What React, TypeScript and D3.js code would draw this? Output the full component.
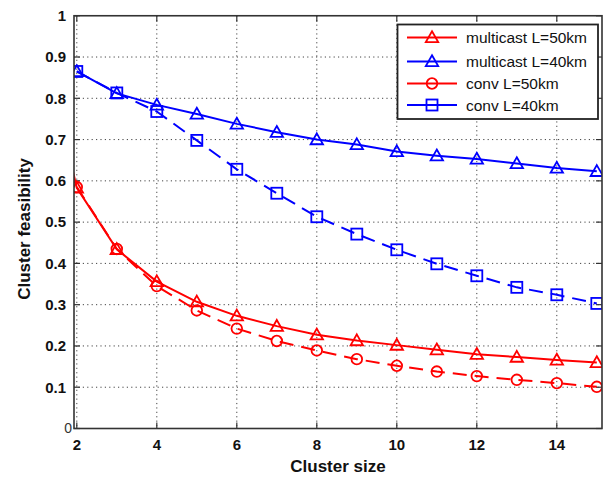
import React from "react";
import * as d3 from "d3";

const xs = [2, 3, 4, 5, 6, 7, 8, 9, 10, 11, 12, 13, 14, 15];
const multicast50 = [0.583, 0.434, 0.356, 0.307, 0.273, 0.248, 0.227, 0.213, 0.202, 0.191, 0.18, 0.173, 0.166, 0.16];
const multicast40 = [0.865, 0.812, 0.784, 0.762, 0.738, 0.718, 0.7, 0.688, 0.671, 0.661, 0.653, 0.642, 0.631, 0.623];
const conv50 = [0.585, 0.435, 0.345, 0.286, 0.242, 0.212, 0.189, 0.168, 0.152, 0.138, 0.127, 0.118, 0.11, 0.101];
const conv40 = [0.865, 0.813, 0.768, 0.698, 0.628, 0.57, 0.513, 0.471, 0.433, 0.399, 0.37, 0.342, 0.324, 0.303];
// multicast L=50km also has a point at cluster size 1 that is clipped by the axes
const multicast50Lead = { x: 1, y: 1.0 };

const xTicks = [2, 4, 6, 8, 10, 12, 14];
const yTicks = [0, 0.1, 0.2, 0.3, 0.4, 0.5, 0.6, 0.7, 0.8, 0.9, 1];
const yTickLabels = ["0", "0.1", "0.2", "0.3", "0.4", "0.5", "0.6", "0.7", "0.8", "0.9", "1"];

const legendLabels = ["multicast L=50km", "multicast L=40km", "conv L=50km", "conv L=40km"];

const RED = "#ff0000";
const BLUE = "#0000ff";

type Series = { values: number[]; color: string; marker: "tri" | "circle" | "square"; dashed: boolean; lead?: { x: number; y: number } };

const series: Series[] = [
  { values: multicast50, color: RED, marker: "tri", dashed: false, lead: multicast50Lead },
  { values: multicast40, color: BLUE, marker: "tri", dashed: false },
  { values: conv50, color: RED, marker: "circle", dashed: true },
  { values: conv40, color: BLUE, marker: "square", dashed: true },
];

const L = 74, R = 602, T = 15.75, B = 428.5;
const FONT = "'Liberation Sans', Arial, Helvetica, sans-serif";

function Marker({ kind, x, y, color }: { kind: string; x: number; y: number; color: string }) {
  if (kind === "tri") {
    const s = 6.2;
    const pts = `${x},${y - s} ${x + s},${y + s * 0.75} ${x - s},${y + s * 0.75}`;
    return <polygon points={pts} fill="none" stroke={color} strokeWidth={1.8} />;
  }
  if (kind === "circle") {
    return <circle cx={x} cy={y} r={5.3} fill="none" stroke={color} strokeWidth={1.8} />;
  }
  return <rect x={x - 5.5} y={y - 5.5} width={11} height={11} fill="none" stroke={color} strokeWidth={1.8} />;
}

export default function App() {
  const x = d3.scaleLinear().domain([1.93, 15.13]).range([L, R]);
  const y = d3.scaleLinear().domain([0, 1]).range([B, T]);
  const line = d3.line<[number, number]>().x((d) => x(d[0])).y((d) => y(d[1]));

  const gridY = yTicks.filter((t) => t > 0 && t < 1);

  return (
    <svg width={607} height={482} style={{ position: "absolute", left: 0, top: 0, background: "#fff" }} fontFamily={FONT}>
      <defs>
        <clipPath id="plotclip">
          <rect x={L} y={T} width={R - L} height={B - T} />
        </clipPath>
      </defs>
      <rect x={0} y={0} width={607} height={482} fill="#fff" />
      {/* grid */}
      {gridY.map((t) => (
        <line key={"gy" + t} x1={L} x2={R} y1={y(t)} y2={y(t)} stroke="#444" strokeWidth={1} strokeDasharray="1.2 3.2" />
      ))}
      {xTicks.map((t) => (
        <line key={"gx" + t} x1={x(t)} x2={x(t)} y1={T} y2={B} stroke="#444" strokeWidth={1} strokeDasharray="1.2 3.2" />
      ))}
      {/* ticks inside on all sides */}
      {xTicks.map((t) => (
        <g key={"tx" + t}>
          <line x1={x(t)} x2={x(t)} y1={B} y2={B - 6} stroke="#333" strokeWidth={1.2} />
          <line x1={x(t)} x2={x(t)} y1={T} y2={T + 6} stroke="#333" strokeWidth={1.2} />
        </g>
      ))}
      {yTicks.map((t) => (
        <g key={"ty" + t}>
          <line x1={L} x2={L + 6} y1={y(t)} y2={y(t)} stroke="#333" strokeWidth={1.2} />
          <line x1={R} x2={R - 6} y1={y(t)} y2={y(t)} stroke="#333" strokeWidth={1.2} />
        </g>
      ))}
      {/* data */}
      <g clipPath="url(#plotclip)">
        {series.map((s, i) => {
          const pts: [number, number][] = xs.map((xv, j) => [xv, s.values[j]]);
          if (s.lead) pts.unshift([s.lead.x, s.lead.y]);
          return (
            <path
              key={"l" + i}
              d={line(pts) || ""}
              fill="none"
              stroke={s.color}
              strokeWidth={2}
              strokeDasharray={s.dashed ? "14 8" : undefined}
            />
          );
        })}
        {series.map((s, i) =>
          xs.map((xv, j) => <Marker key={"m" + i + "_" + j} kind={s.marker} x={x(xv)} y={y(s.values[j])} color={s.color} />)
        )}
      </g>
      {/* axes box */}
      <rect x={L} y={T} width={R - L} height={B - T} fill="none" stroke="#333" strokeWidth={1.6} />
      {/* tick labels */}
      {xTicks.map((t) => (
        <text key={"xl" + t} x={x(t)} y={450} textAnchor="middle" fontSize={15} fontWeight="bold" fill="#111">
          {t}
        </text>
      ))}
      {yTicks.map((t, i) =>
        t === 0 ? (
          <text key={"yl" + t} x={72} y={433} textAnchor="end" fontSize={14} fill="#333">
            {yTickLabels[i]}
          </text>
        ) : (
          <text key={"yl" + t} x={66} y={y(t) + 5.3} textAnchor="end" fontSize={15} fontWeight="bold" fill="#111">
            {yTickLabels[i]}
          </text>
        )
      )}
      {/* axis titles */}
      <text x={338} y={472} textAnchor="middle" fontSize={17} fontWeight="bold" fill="#111">
        Cluster size
      </text>
      <text transform="translate(30,229) rotate(-90)" textAnchor="middle" fontSize={17} fontWeight="bold" fill="#111">
        Cluster feasibility
      </text>
      {/* legend */}
      <rect x={397.5} y={24.5} width={200.5} height={94.5} fill="#fff" stroke="#222" strokeWidth={1.8} />
      {series.map((s, i) => {
        const ly = [37.5, 61.5, 83.5, 105][i];
        return (
          <g key={"lg" + i}>
            <line x1={407} x2={457} y1={ly} y2={ly} stroke={s.color} strokeWidth={2} />
            <Marker kind={s.marker} x={432} y={ly} color={s.color} />
            <text x={466} y={ly + 5.5} fontSize={15.5} fill="#111">
              {legendLabels[i]}
            </text>
          </g>
        );
      })}
    </svg>
  );
}
